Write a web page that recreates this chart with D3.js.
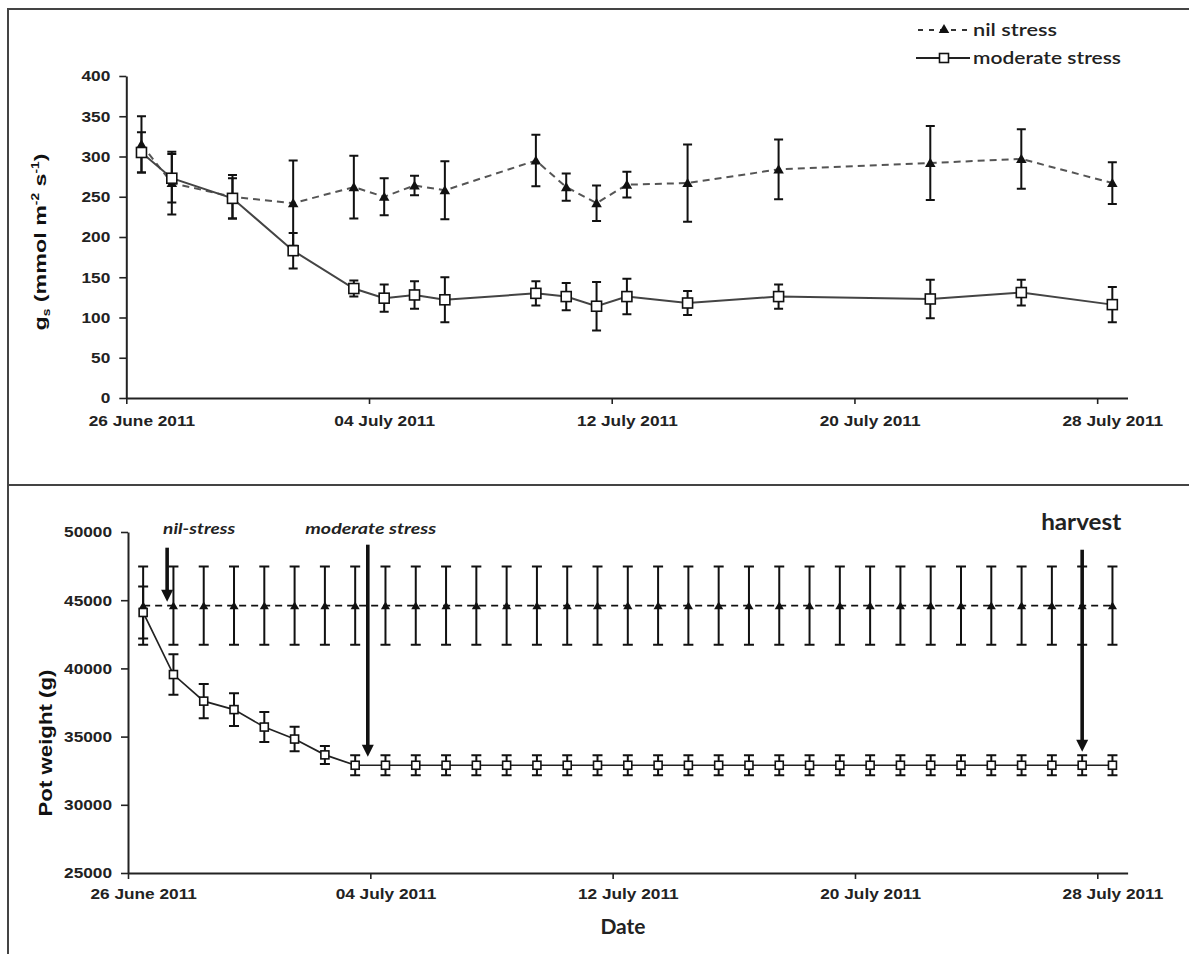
<!DOCTYPE html>
<html><head><meta charset="utf-8">
<script src="https://cdn.jsdelivr.net/npm/d3@7"></script>
<style>body{margin:0;background:#fff} svg{display:block}</style>
</head><body><svg id="c" width="1189" height="954"></svg>
<script>
// ---------- DATA ----------
const xTickDates  = ["2011-06-26","2011-07-04","2011-07-12","2011-07-20","2011-07-28"];
const xTickLabels = ["26 June 2011","04 July 2011","12 July 2011","20 July 2011","28 July 2011"];
const xDomain     = ["2011-06-26","2011-07-29"];

// Panel A: stomatal conductance gs (mmol m-2 s-1)
const gsDates  = ["2011-06-26","2011-06-27","2011-06-29","2011-07-01","2011-07-03","2011-07-04","2011-07-05","2011-07-06",
                  "2011-07-09","2011-07-10","2011-07-11","2011-07-12","2011-07-14","2011-07-17","2011-07-22","2011-07-25","2011-07-28"];
const gsNil    = [315,267,250,242,262,250,264,258,295,262,242,265,267,284,292,297,267];
const gsNilErr = [35,39,27,53,39,23,12,36,32,17,22,16,48,37,46,37,26];
const gsMod    = [305,273,248,183,136,124,128,122,130,126,114,126,118,126,123,131,116];
const gsModErr = [25,30,25,22,10,17,17,28,15,17,30,22,15,15,24,16,22];
const gsTicks  = [0,50,100,150,200,250,300,350,400];

// Panel B: pot weight (g)
const potDates = ["2011-06-26","2011-06-27","2011-06-28","2011-06-29","2011-06-30","2011-07-01","2011-07-02","2011-07-03",
                  "2011-07-04","2011-07-05","2011-07-06","2011-07-07","2011-07-08","2011-07-09","2011-07-10","2011-07-11",
                  "2011-07-12","2011-07-13","2011-07-14","2011-07-15","2011-07-16","2011-07-17","2011-07-18","2011-07-19",
                  "2011-07-20","2011-07-21","2011-07-22","2011-07-23","2011-07-24","2011-07-25","2011-07-26","2011-07-27","2011-07-28"];
const potNil    = [44600,44600,44600,44600,44600,44600,44600,44600,44600,44600,44600,44600,44600,44600,44600,44600,
                   44600,44600,44600,44600,44600,44600,44600,44600,44600,44600,44600,44600,44600,44600,44600,44600,44600];
const potNilErr = [2870,2870,2870,2870,2870,2870,2870,2870,2870,2870,2870,2870,2870,2870,2870,2870,
                   2870,2870,2870,2870,2870,2870,2870,2870,2870,2870,2870,2870,2870,2870,2870,2870,2870];
const potMod    = [44100,39550,37600,36980,35700,34820,33660,32900,32900,32900,32900,32900,32900,32900,32900,32900,
                   32900,32900,32900,32900,32900,32900,32900,32900,32900,32900,32900,32900,32900,32900,32900,32900,32900];
const potModErr = [1900,1480,1260,1200,1100,900,660,730,730,730,730,730,730,730,730,730,
                   730,730,730,730,730,730,730,730,730,730,730,730,730,730,730,730,730];
const potTicks  = [25000,30000,35000,40000,45000,50000];

// Annotations (arrows) on panel B
const annText   = ["nil-stress","moderate stress","harvest"];
const annDates  = ["2011-06-27T07:00","2011-07-03T22:00","2011-07-27T12:00"];
const annFrom   = [48850,49070,48700];
const annTo     = [44890,33530,33890];

const seriesNames = ["nil stress","moderate stress"];

// ---------- HELPERS ----------
const pDay  = d3.timeParse("%Y-%m-%d");
const pTime = d3.timeParse("%Y-%m-%dT%H:%M");
const noon  = s => d3.timeHour.offset(pDay(s), 12);
const svg = d3.select("#c");
const TICKFONT = "'Liberation Sans', Arial, sans-serif";
const CAL = "Lato, 'Open Sans', sans-serif";

function stretch(sel, f){
  sel.each(function(){
    const w = this.getComputedTextLength();
    d3.select(this).attr("textLength", w*f).attr("lengthAdjust","spacingAndGlyphs");
  });
}

// frame
svg.append("path").attr("d","M8,954V9H1189M8,485H1189")
   .attr("fill","none").attr("stroke","#444").attr("stroke-width",2);

function panel(cfg){
  const x = d3.scaleTime().domain(xDomain.map(pDay)).range(cfg.xr);
  const y = d3.scaleLinear().domain(cfg.yd).range(cfg.yr);
  const g = svg.append("g");

  // axes
  const xa = g.append("g").attr("transform",`translate(0,${cfg.yr[0]})`)
    .call(d3.axisBottom(x).tickValues(xTickDates.map(pDay)).tickSize(6).tickSizeOuter(0)
          .tickFormat((d,i)=>xTickLabels[i]));
  const halfDay = x(noon(xTickDates[0])) - x(pDay(xTickDates[0]));
  xa.selectAll("text").attr("x", halfDay).attr("y", cfg.xLabY).attr("dy","0.71em")
    .attr("font-family",TICKFONT).attr("font-weight","bold").attr("font-size",15).attr("fill","#222");
  const ya = g.append("g").attr("transform",`translate(${cfg.xr[0]},0)`)
    .call(d3.axisLeft(y).tickValues(cfg.ticks).tickSize(7).tickSizeOuter(0).tickPadding(9).tickFormat(d3.format("d")));
  ya.selectAll("text").attr("font-family",TICKFONT).attr("font-weight","bold").attr("font-size",15).attr("fill","#222");
  [xa,ya].forEach(a=>{
    a.select(".domain").attr("stroke","#222").attr("stroke-width",2);
    a.selectAll(".tick line").attr("stroke","#222").attr("stroke-width",1.6);
  });
  stretch(xa.selectAll("text"),1.15);
  stretch(ya.selectAll("text"),1.15);

  const series = [
    {dates:cfg.d, v:cfg.nil, e:cfg.nilE, dash:"7,5", col:cfg.nilCol, sym:"tri"},
    {dates:cfg.d, v:cfg.mod, e:cfg.modE, dash:null,  col:cfg.modCol, sym:"sq"}
  ];
  series.forEach(s=>{
    const pts = s.dates.map((d,i)=>({x:x(noon(d)), v:s.v[i], e:s.e[i]}));
    g.append("path").datum(pts)
      .attr("d", d3.line().x(p=>p.x).y(p=>y(p.v)))
      .attr("fill","none").attr("stroke",s.col).attr("stroke-width",cfg.lw)
      .attr("stroke-dasharray",s.dash);
    g.selectAll(null).data(pts).enter().append("path")
      .attr("d",p=>{const c=cfg.cap/2, t=y(p.v+p.e), b=y(p.v-p.e);
        return `M${p.x},${t}V${b}M${p.x-c},${t}h${cfg.cap}M${p.x-c},${b}h${cfg.cap}`;})
      .attr("fill","none").attr("stroke","#111").attr("stroke-width",2);
    s.pts = pts;
  });
  series.forEach(s=>{
    if (s.sym==="tri"){
      g.selectAll(null).data(s.pts).enter().append("path")
        .attr("d", d3.symbol(d3.symbolTriangle, cfg.tri))
        .attr("transform",p=>`translate(${p.x},${y(p.v)+1})`).attr("fill","#111");
    } else {
      const q = cfg.sq;
      g.selectAll(null).data(s.pts).enter().append("rect")
        .attr("x",p=>p.x-q/2).attr("y",p=>y(p.v)-q/2).attr("width",q).attr("height",q)
        .attr("fill","#fff").attr("stroke","#111").attr("stroke-width",1.6);
    }
  });
  return {x,y,g};
}

// ---------- PANEL A ----------
const A = panel({xr:[126.3,1127.5], yd:[0,400], yr:[398,76], ticks:gsTicks, xLabY:17,
  d:gsDates, nil:gsNil, nilE:gsNilErr, mod:gsMod, modE:gsModErr,
  nilCol:"#555", modCol:"#444", lw:2, cap:9, tri:48, sq:10});

// y title A
const ta = svg.append("text").attr("transform","translate(46,242) rotate(-90)")
  .attr("text-anchor","middle").attr("font-family",TICKFONT).attr("font-weight","bold")
  .attr("font-size",17).attr("fill","#111");
ta.append("tspan").text("g");
ta.append("tspan").attr("font-size",10).attr("dy",4).text("s");
ta.append("tspan").attr("dy",-4).text(" (mmol m");
ta.append("tspan").attr("font-size",10).attr("dy",-7).text("-2");
ta.append("tspan").attr("dy",7).text(" s");
ta.append("tspan").attr("font-size",10).attr("dy",-7).text("-1");
ta.append("tspan").attr("dy",7).text(")");
ta.attr("textLength",177).attr("lengthAdjust","spacingAndGlyphs");

// legend
const leg = svg.append("g");
[0,1].forEach(i=>{
  const yy = 30 + i*28;
  leg.append("line").attr("x1", i?916:918).attr("x2",970).attr("y1",yy).attr("y2",yy)
    .attr("stroke", i?"#222":"#333").attr("stroke-width",2).attr("stroke-dasharray", i?null:"5,6");
  if(!i) leg.append("path").attr("d",d3.symbol(d3.symbolTriangle,48)).attr("transform",`translate(944,${yy})`).attr("fill","#111");
  else leg.append("rect").attr("x",939.5).attr("y",yy-4.5).attr("width",9).attr("height",9)
          .attr("fill","#fff").attr("stroke","#111").attr("stroke-width",1.6);
  const t = leg.append("text").attr("x",973).attr("y",yy+6).attr("font-family",CAL)
    .attr("font-weight","600").attr("font-size",18).attr("fill","#222").text(seriesNames[i]);
  t.attr("textLength", i?148:84).attr("lengthAdjust","spacingAndGlyphs");
});

// ---------- PANEL B ----------
const B = panel({xr:[128,1127.6], yd:[25000,50000], yr:[873,532], ticks:potTicks, xLabY:15,
  d:potDates, nil:potNil, nilE:potNilErr, mod:potMod, modE:potModErr,
  nilCol:"#111", modCol:"#222", lw:1.7, cap:10, tri:36, sq:8});

const tb = svg.append("text").attr("transform","translate(52,743) rotate(-90)")
  .attr("text-anchor","middle").attr("font-family",TICKFONT).attr("font-weight","bold")
  .attr("font-size",19).attr("fill","#111").text("Pot weight (g)");
tb.attr("textLength",147).attr("lengthAdjust","spacingAndGlyphs");

svg.append("text").attr("x",623).attr("y",934).attr("text-anchor","middle")
  .attr("font-family",CAL).attr("font-weight","bold").attr("font-size",21).attr("fill","#222").text("Date");

// arrows + annotation labels
const labDx = [32,3,-1], labW = [72,131,80], labSize=[16,16,22];
annText.forEach((t,i)=>{
  const ax = B.x(pTime(annDates[i])), y0 = B.y(annFrom[i]), y1 = B.y(annTo[i]);
  const hl = 12, hw = 6;
  B.g.append("path").attr("d",`M${ax},${y0}V${y1-hl+1}`).attr("stroke","#111").attr("stroke-width",3.6);
  B.g.append("path").attr("d",`M${ax-hw},${y1-hl}L${ax+hw},${y1-hl}L${ax},${y1}Z`).attr("fill","#111");
  const tx = svg.append("text").attr("x",ax+labDx[i]).attr("y", i===2?530:534).attr("text-anchor","middle")
    .attr("font-family",CAL).attr("font-weight","bold").attr("font-style", i===2?"normal":"italic")
    .attr("font-size",labSize[i]).attr("fill","#222").text(t);
  tx.attr("textLength",labW[i]).attr("lengthAdjust","spacingAndGlyphs");
});
</script></body></html>
